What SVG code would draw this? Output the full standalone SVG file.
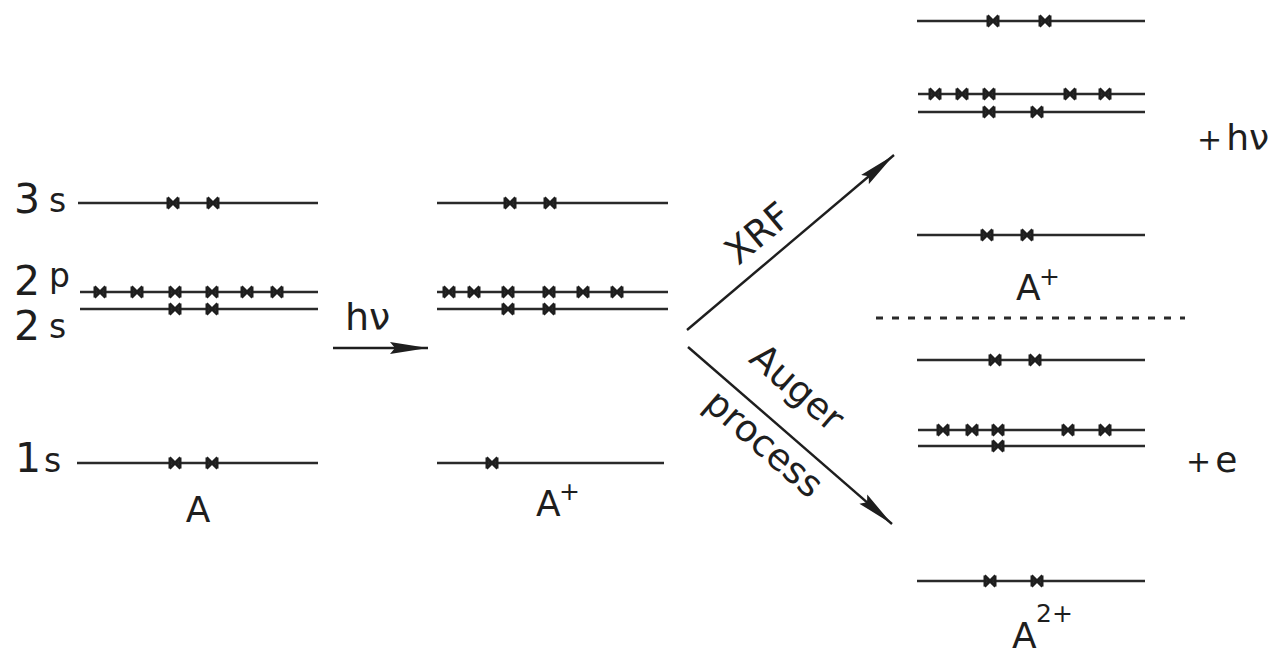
<svg xmlns="http://www.w3.org/2000/svg" xmlns:xlink="http://www.w3.org/1999/xlink" width="1280" height="660" viewBox="0 0 1280 660">
  <style>
    .lvl { stroke: #2a2a2a; stroke-width: 2.4; fill: none; }
    .conn { stroke: #1e1e1e; stroke-width: 2.4; fill: none; }
    .dot { stroke: #2a2a2a; stroke-width: 3; stroke-dasharray: 7 9; fill: none; }
    text { font-family: "DejaVu Sans", "Liberation Sans", sans-serif; fill: #1e1e1e; }
    .big { font-size: 41px; }
    .sub { font-size: 33px; }
    .lab { font-size: 36px; }
    .sup { font-size: 25px; }
    .plus { font-size: 30px; }
    .side { font-size: 36px; }
    .arr { font-size: 38px; }
    .diag { font-size: 37px; }
  </style>
  <defs>
    <!-- electron marker: small bow-tie cross sitting on an orbital line -->
    <path id="e" d="M-5.5,-5.5 L5.5,5.5 M5.5,-5.5 L-5.5,5.5 M-5,-5.5 L-5,5.5 M5,-5.5 L5,5.5" stroke="#1e1e1e" stroke-width="3" fill="none"/>
    <marker id="head" viewBox="0 0 38 13" refX="38" refY="6.5" markerWidth="38" markerHeight="13" markerUnits="userSpaceOnUse" orient="auto">
      <path d="M0,0.5 L38,6.5 L0,12.5 L5,6.5 Z" fill="#1e1e1e"/>
    </marker>
  </defs>

  <!-- atom A: ground state -->
  <g id="atom-A">
    <text class="big" x="14" y="213">3</text><text class="sub" x="49" y="212">s</text>
    <text class="big" x="14" y="295">2</text><text class="sub" x="49" y="287">p</text>
    <text class="big" x="14" y="340">2</text><text class="sub" x="49" y="338">s</text>
    <text class="big" x="15" y="472">1</text><text class="sub" x="44" y="472">s</text>
    <line class="lvl" x1="78" y1="203" x2="318" y2="203"/>
    <line class="lvl" x1="80" y1="292" x2="318" y2="292"/>
    <line class="lvl" x1="80" y1="309" x2="318" y2="309"/>
    <line class="lvl" x1="77" y1="463" x2="318" y2="463"/>
    <use xlink:href="#e" x="173" y="203"/><use xlink:href="#e" x="213" y="203"/>
    <use xlink:href="#e" x="100" y="292"/><use xlink:href="#e" x="137" y="292"/><use xlink:href="#e" x="175" y="292"/>
    <use xlink:href="#e" x="212" y="292"/><use xlink:href="#e" x="247" y="292"/><use xlink:href="#e" x="277" y="292"/>
    <use xlink:href="#e" x="175" y="309"/><use xlink:href="#e" x="212" y="309"/>
    <use xlink:href="#e" x="175" y="463"/><use xlink:href="#e" x="212" y="463"/>
    <text class="lab" x="198" y="522" text-anchor="middle">A</text>
  </g>

  <!-- ion A+: 1s vacancy -->
  <g id="ion-A-plus">
    <line class="lvl" x1="437" y1="203" x2="668" y2="203"/>
    <line class="lvl" x1="437" y1="292" x2="668" y2="292"/>
    <line class="lvl" x1="437" y1="309" x2="668" y2="309"/>
    <line class="lvl" x1="437" y1="463" x2="664" y2="463"/>
    <use xlink:href="#e" x="510" y="203"/><use xlink:href="#e" x="550" y="203"/>
    <use xlink:href="#e" x="449" y="292"/><use xlink:href="#e" x="474" y="292"/><use xlink:href="#e" x="508" y="292"/>
    <use xlink:href="#e" x="549" y="292"/><use xlink:href="#e" x="583" y="292"/><use xlink:href="#e" x="617" y="292"/>
    <use xlink:href="#e" x="508" y="309"/><use xlink:href="#e" x="549" y="309"/>
    <use xlink:href="#e" x="492" y="463"/>
    <text class="lab" x="536" y="516">A</text><text class="sup" x="559" y="500">+</text>
  </g>

  <!-- XRF product: A+ with 2p vacancy -->
  <g id="xrf-A-plus">
    <line class="lvl" x1="917" y1="21" x2="1145" y2="21"/>
    <line class="lvl" x1="918" y1="94" x2="1145" y2="94"/>
    <line class="lvl" x1="918" y1="112" x2="1145" y2="112"/>
    <line class="lvl" x1="917" y1="235" x2="1145" y2="235"/>
    <use xlink:href="#e" x="993" y="21"/><use xlink:href="#e" x="1045" y="21"/>
    <use xlink:href="#e" x="935" y="94"/><use xlink:href="#e" x="962" y="94"/><use xlink:href="#e" x="989" y="94"/>
    <use xlink:href="#e" x="1070" y="94"/><use xlink:href="#e" x="1105" y="94"/>
    <use xlink:href="#e" x="989" y="112"/><use xlink:href="#e" x="1037" y="112"/>
    <use xlink:href="#e" x="987" y="235"/><use xlink:href="#e" x="1027" y="235"/>
    <text class="lab" x="1016" y="300">A</text><text class="sup" x="1039" y="285">+</text>
    <text x="1197" y="150"><tspan class="plus">+</tspan><tspan class="side" dx="4">hν</tspan></text>
  </g>

  <!-- separator between the two decay channels -->
  <line id="separator" class="dot" x1="876" y1="318" x2="1185" y2="318"/>

  <!-- Auger product: A2+ with two 2p vacancies -->
  <g id="auger-A2-plus">
    <line class="lvl" x1="917" y1="360" x2="1145" y2="360"/>
    <line class="lvl" x1="918" y1="430" x2="1145" y2="430"/>
    <line class="lvl" x1="918" y1="446" x2="1145" y2="446"/>
    <line class="lvl" x1="917" y1="581" x2="1145" y2="581"/>
    <use xlink:href="#e" x="995" y="360"/><use xlink:href="#e" x="1035" y="360"/>
    <use xlink:href="#e" x="943" y="430"/><use xlink:href="#e" x="972" y="430"/><use xlink:href="#e" x="998" y="430"/>
    <use xlink:href="#e" x="1068" y="430"/><use xlink:href="#e" x="1105" y="430"/>
    <use xlink:href="#e" x="998" y="446"/>
    <use xlink:href="#e" x="990" y="581"/><use xlink:href="#e" x="1037" y="581"/>
    <text class="lab" x="1012" y="648">A</text><text class="sup" x="1036" y="622">2+</text>
    <text x="1186" y="472"><tspan class="plus">+</tspan><tspan class="side" dx="4">e</tspan></text>
  </g>

  <!-- transitions -->
  <g id="connectors">
    <line class="conn" x1="333" y1="348" x2="428" y2="348" marker-end="url(#head)"/>
    <text class="arr" x="345" y="330">hν</text>
    <line class="conn" x1="687" y1="330" x2="894" y2="155" marker-end="url(#head)"/>
    <text class="diag" transform="translate(766 243) rotate(-40)" text-anchor="middle">XRF</text>
    <line class="conn" x1="688" y1="347" x2="892" y2="524" marker-end="url(#head)"/>
    <text class="diag" transform="translate(789 397) rotate(41)" text-anchor="middle">Auger</text>
    <text class="diag" transform="translate(756 453) rotate(41)" text-anchor="middle">process</text>
  </g>
</svg>
